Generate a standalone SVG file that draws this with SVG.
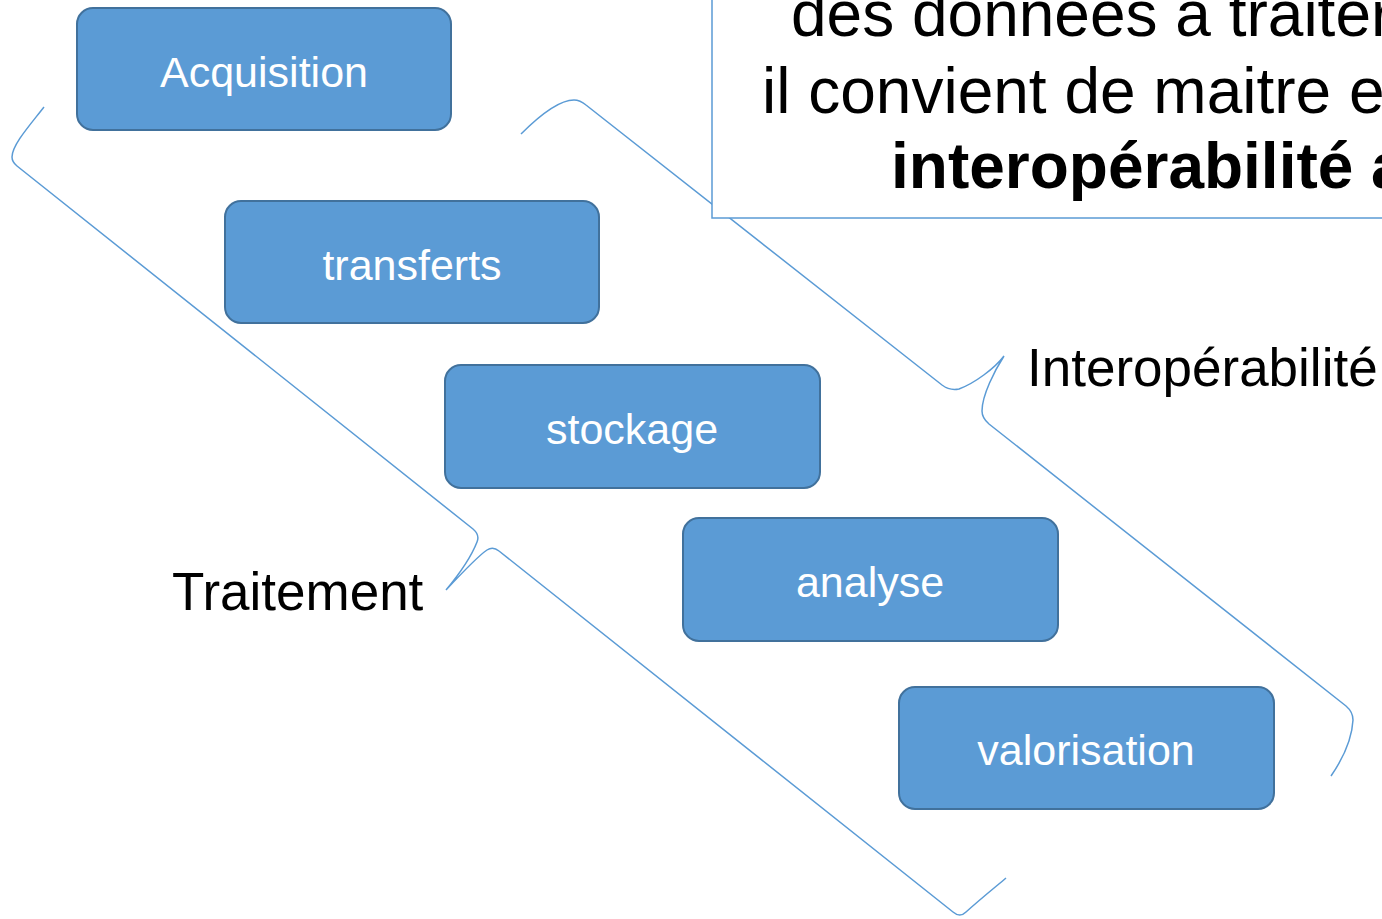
<svg xmlns="http://www.w3.org/2000/svg" width="1382" height="919" viewBox="0 0 1382 919">
<style>
.box{fill:#5B9BD5;stroke:#41719C;stroke-width:2}
.bt{font-family:"Liberation Sans",Arial,sans-serif;font-size:43px;fill:#fff;text-anchor:middle}
.brace{fill:none;stroke:#5B9BD5;stroke-width:1.5}
.lab{font-family:"Liberation Sans",Arial,sans-serif;font-size:53px;fill:#000}
.big{font-family:"Liberation Sans",Arial,sans-serif;font-size:64px;fill:#000}
</style>
<rect width="1382" height="919" fill="#fff"/>
<g id="connectors">
<path class="brace" d="M44,107 C30,125 12,145 12,157 Q12,162 17,166 L473,529 Q480,535 477,542 C470,560 456,578 446,590 C460,575 478,556 487,550 Q493,546 499,551 L953,912 Q960,918 966,912 C985,895 998,885 1006,878"/>
<path class="brace" d="M521,134 C540,115 560,100 574,100 Q580,100 586,105 L942,385 Q950,391 959,389 C975,383 995,368 1004,356 C995,370 982,395 982,411 Q982,418 989,424 L1346,706 Q1353,712 1353,720 C1352,740 1342,760 1331,776"/>
</g>
<g id="textbox">
<rect x="712" y="-10" width="720" height="228" fill="#fff" stroke="#5B9BD5" stroke-width="1.5"/>
<text class="big" x="791" y="36">des données à traiter</text>
<text class="big" x="762" y="113">il convient de maitre e</text>
<text class="big" x="891" y="188" font-weight="bold" font-size="63">interopérabilité a</text>
</g>
<g id="acquisition"><rect class="box" x="77" y="8" width="374" height="122" rx="16"/><text class="bt" x="264" y="87">Acquisition</text></g>
<g id="transferts"><rect class="box" x="225" y="201" width="374" height="122" rx="16"/><text class="bt" x="412" y="280">transferts</text></g>
<g id="stockage"><rect class="box" x="445" y="365" width="375" height="123" rx="16"/><text class="bt" x="632" y="444">stockage</text></g>
<g id="analyse"><rect class="box" x="683" y="518" width="375" height="123" rx="16"/><text class="bt" x="870" y="597">analyse</text></g>
<g id="valorisation"><rect class="box" x="899" y="687" width="375" height="122" rx="16"/><text class="bt" x="1086" y="765">valorisation</text></g>
<g id="traitement"><text class="lab" x="172" y="610">Traitement</text></g>
<g id="interop"><text class="lab" x="1027" y="386">Interopérabilité</text></g>
</svg>
